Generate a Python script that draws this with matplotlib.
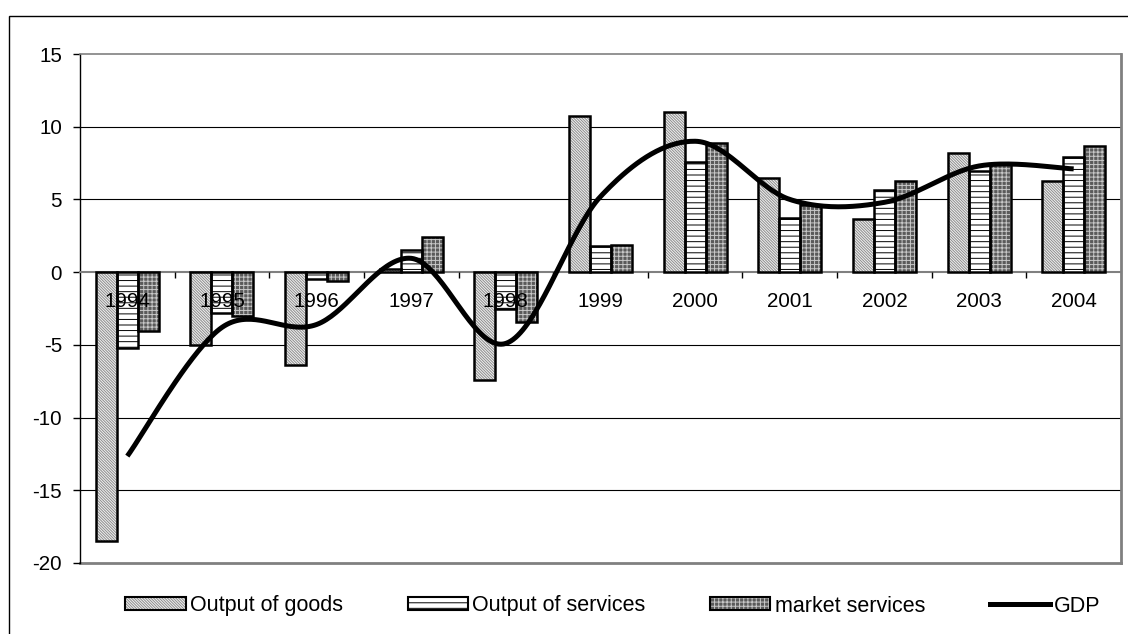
import numpy as np
import matplotlib.pyplot as plt
from matplotlib.patches import Patch, Rectangle
from matplotlib.lines import Line2D
from matplotlib.legend_handler import HandlerTuple

plt.rcParams['font.family'] = ['Liberation Sans', 'DejaVu Sans']
plt.rcParams['axes.unicode_minus'] = False
plt.rcParams['hatch.linewidth'] = 0.7

years = ['1994', '1995', '1996', '1997', '1998', '1999',
         '2000', '2001', '2002', '2003', '2004']
goods = [-18.5, -5.0, -6.4, 0.25, -7.4, 10.75, 11.0, 6.5, 3.65, 8.2, 6.3]
services = [-5.2, -2.8, -0.45, 1.5, -2.5, 1.8, 7.55, 3.75, 5.65, 6.95, 7.9]
market = [-4.05, -3.0, -0.6, 2.4, -3.45, 1.9, 8.85, 4.65, 6.25, 7.45, 8.7]
gdp = [-12.65, -3.8, -3.6, 0.95, -4.9, 5.2, 9.0, 5.0, 4.8, 7.3, 7.1]


def smooth(xs, ys, n=40):
    # Catmull-Rom curve through the points, ends duplicated
    px = np.concatenate([[xs[0]], xs, [xs[-1]]])
    py = np.concatenate([[ys[0]], ys, [ys[-1]]])
    t = np.linspace(0, 1, n)
    h00 = 2*t**3 - 3*t**2 + 1
    h10 = t**3 - 2*t**2 + t
    h01 = -2*t**3 + 3*t**2
    h11 = t**3 - t**2
    cx, cy = [], []
    for i in range(1, len(px) - 2):
        for p, out in ((px, cx), (py, cy)):
            m1 = (p[i+1] - p[i-1]) / 2
            m2 = (p[i+2] - p[i]) / 2
            out.extend(h00*p[i] + h10*m1 + h01*p[i+1] + h11*m2)
    return np.array(cx), np.array(cy)


fig = plt.figure(figsize=(11.28, 6.34), dpi=100)
ax = fig.add_axes([80/1128, 1 - 563/634, (1121 - 80)/1128, (563 - 54)/634])

x = np.arange(len(years))
w = 0.222
series = [
    ('Output of goods', goods, -w, '#f2f2f2', '#8c8c8c', '\\' * 12),
    ('Output of services', services, 0, 'white', 'black', '---'),
    ('market services', market, w, '#5a5a5a', '#c8c8c8', '++++'),
]

handles = []
for label, vals, off, face, hcol, hatch in series:
    ax.bar(x + off, vals, w, color=face, edgecolor=hcol, hatch=hatch,
           linewidth=0, zorder=3)
    ax.bar(x + off, vals, w, fill=False, edgecolor='black', linewidth=1.8,
           zorder=3.2)
    handles.append((Patch(facecolor=face, edgecolor=hcol, hatch=hatch, lw=0),
                    Patch(facecolor='none', edgecolor='black', lw=1.5)))

sx, sy = smooth(x.astype(float), np.array(gdp))
ax.plot(sx, sy, color='black', lw=3.6, solid_capstyle='butt', zorder=5)
handles.append(Line2D([], [], color='black', lw=3.6))

# gridlines and plot-area frame
for y in [-15, -10, -5, 5, 10]:
    ax.axhline(y, color='black', lw=0.8, zorder=0)
ax.axhline(-20, color='#808080', lw=2, zorder=1, clip_on=False)
ax.spines['top'].set_color('#808080')
ax.spines['top'].set_linewidth(1.2)
ax.spines['right'].set_color('#808080')
ax.spines['right'].set_linewidth(2)
ax.spines['bottom'].set_position(('data', 0))
ax.spines['bottom'].set_color('#808080')
ax.spines['bottom'].set_linewidth(1.5)
ax.spines['left'].set_color('black')
ax.spines['left'].set_linewidth(1)

ax.set_xlim(-0.5, 10.5)
ax.set_ylim(-20, 15)
ax.set_yticks(range(-20, 16, 5))
ax.set_xticks(x, labels=years)
ax.set_xticks(np.arange(0.5, 10, 1), minor=True)
ax.tick_params(axis='x', which='major', length=0, pad=14, labelsize=14.8)
ax.tick_params(axis='x', which='minor', length=4, width=1, direction='out')
ax.tick_params(axis='y', length=5, width=1, pad=8, labelsize=14.8)
ax.xaxis.set_zorder(3.5)

fig.legend(handles, [s[0] for s in series] + ['GDP'], ncol=4, loc='center',
           bbox_to_anchor=(613/1128, 1 - 606/634), frameon=False,
           handlelength=2.8, handleheight=0.55, handletextpad=0.2,
           columnspacing=3.0, fontsize=15.5,
           handler_map={tuple: HandlerTuple(ndivide=1)})

fig.add_artist(Rectangle((9/1128, -0.1), 1.2, 1 - 16/634 + 0.1,
                         transform=fig.transFigure, fill=False,
                         edgecolor='black', lw=1))

fig.savefig('out.png', dpi=100)
